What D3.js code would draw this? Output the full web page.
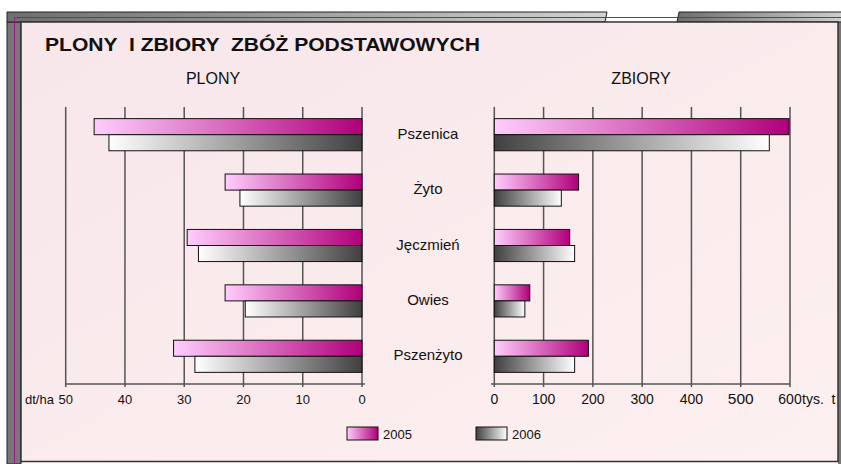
<!DOCTYPE html>
<html>
<head>
<meta charset="utf-8">
<script src="https://cdn.jsdelivr.net/npm/d3@7"></script>
<style>
    body { margin: 0; background: white; }
    text { font-family: 'Liberation Sans', Arial, sans-serif; fill: #111; }
</style>
</head>
<body>
<script>
let categories = ['Pszenica', 'Żyto', 'Jęczmień', 'Owies', 'Pszenżyto']
let years = ['2005', '2006']
let plony2005 = [45.2, 23.1, 29.5, 23.1, 31.8]
let plony2006 = [42.7, 20.6, 27.6, 19.7, 28.2]
let zbiory2005 = [598, 171, 153, 72, 191]
let zbiory2006 = [558, 136, 163, 62, 163]
let plonyTicks = [50, 40, 30, 20, 10, 0]
let zbioryTicks = [0, 100, 200, 300, 400, 500, 600]

let width = 841
let height = 464

let svg = d3.select('body')
    .append('svg')
        .attr('width', width)
        .attr('height', height)

let defs = svg.append('defs')

function gradient(id, from, to, x1, y1, x2, y2){
    let g = defs.append('linearGradient')
        .attr('id', id)
        .attr('x1', x1 || 0).attr('y1', y1 || 0)
        .attr('x2', x2 === undefined ? 1 : x2).attr('y2', y2 || 0)
    g.append('stop').attr('offset', '0%').attr('stop-color', from)
    g.append('stop').attr('offset', '100%').attr('stop-color', to)
}

gradient('pink', '#ffcdfc', '#b0007a')
gradient('greyL', '#ffffff', '#404040')
gradient('greyR', '#404040', '#ffffff')
gradient('band', '#6e6e6e', '#d2d2d2')
gradient('panel', '#f7e6ea', '#fdf0f0', 0, 0, 1, 1)

// frame
svg.append('rect')
    .attr('x', 7).attr('y', 22)
    .attr('width', 14).attr('height', height - 22)
    .attr('fill', '#777')
    .attr('stroke', '#222')
svg.append('rect')
    .attr('x', 838).attr('y', 22)
    .attr('width', 10).attr('height', height - 22)
    .attr('fill', '#777')

let bandPieces = [
    [[7, 12], [607, 12], [605, 22], [7, 22]],
    [[679, 12], [848, 12], [848, 22], [677, 22]]
]
svg.selectAll('.bandPiece')
    .data(bandPieces)
    .enter()
    .append('polygon')
        .attr('class', 'bandPiece')
        .attr('points', d => d.join(' '))
        .attr('fill', 'url(#band)')
        .attr('stroke', '#222')
        .attr('stroke-width', 1)

svg.append('path')
    .attr('d', 'M14.5,' + height + 'V17.5H' + width)
    .attr('fill', 'none')
    .attr('stroke', '#a0168c')
    .attr('stroke-width', 1)

svg.append('rect')
    .attr('x', 21).attr('y', 22)
    .attr('width', 817).attr('height', 439.5)
    .attr('fill', 'url(#panel)')
    .attr('stroke', '#333')
    .attr('stroke-width', 1.5)

// titles
svg.append('text')
    .attr('x', 45).attr('y', 51)
    .attr('font-size', 18.5)
    .attr('font-weight', 'bold')
    .attr('textLength', 435)
    .attr('lengthAdjust', 'spacingAndGlyphs')
    .attr('xml:space', 'preserve')
    .text('PLONY  I ZBIORY  ZBÓŻ PODSTAWOWYCH')

svg.append('text')
    .attr('x', 213).attr('y', 84)
    .attr('text-anchor', 'middle')
    .attr('font-size', 16)
    .text('PLONY')

svg.append('text')
    .attr('x', 641).attr('y', 84)
    .attr('text-anchor', 'middle')
    .attr('font-size', 16)
    .text('ZBIORY')

// scales
let y = d3.scaleBand()
    .domain(categories)
    .range([107, 384])
    .paddingInner(0.42)
    .paddingOuter(0.21)

let yYear = d3.scaleBand()
    .domain(years)
    .range([0, y.bandwidth()])

let xL = d3.scaleLinear().domain([50, 0]).range([65.7, 362])
let xR = d3.scaleLinear().domain([0, 600]).range([494.3, 790])

let plonyData = categories.map((c, i) => ({ cat: c, v2005: plony2005[i], v2006: plony2006[i] }))
let zbioryData = categories.map((c, i) => ({ cat: c, v2005: zbiory2005[i], v2006: zbiory2006[i] }))

// grid and axis lines
function grid(ticks, x, lineFrom, lineTo){
    let g = svg.append('g')
        .attr('stroke', '#555')
        .attr('stroke-width', 1.5)

    g.selectAll('line.grid')
        .data(ticks)
        .enter()
        .append('line')
            .attr('class', 'grid')
            .attr('x1', d => x(d)).attr('x2', d => x(d))
            .attr('y1', 107).attr('y2', 387)

    g.append('line')
        .attr('x1', lineFrom).attr('x2', lineTo)
        .attr('y1', 384).attr('y2', 384)
}

grid(plonyTicks, xL, 65, 365)
grid(zbioryTicks, xR, 491, 790)

// bars
function bars(data, x, fill2006, leftSide){
    let g = svg.append('g')
        .attr('stroke', '#111')
        .attr('stroke-width', 1)

    years.forEach(yr => {
        g.selectAll('rect.y' + yr)
            .data(data)
            .enter()
            .append('rect')
                .attr('class', 'y' + yr)
                .attr('x', d => leftSide ? x(d['v' + yr]) : x(0))
                .attr('y', d => y(d.cat) + yYear(yr))
                .attr('width', d => Math.abs(x(d['v' + yr]) - x(0)))
                .attr('height', yYear.bandwidth())
                .attr('fill', yr === '2005' ? 'url(#pink)' : fill2006)
    })
}

bars(plonyData, xL, 'url(#greyL)', true)
bars(zbioryData, xR, 'url(#greyR)', false)

// category labels
svg.selectAll('text.cat')
    .data(categories)
    .enter()
    .append('text')
        .attr('class', 'cat')
        .attr('x', 428)
        .attr('y', d => y(d) + y.bandwidth() / 2 + 4)
        .attr('text-anchor', 'middle')
        .attr('font-size', 15)
        .text(d => d)

// tick labels
svg.selectAll('text.tickL')
    .data(plonyTicks)
    .enter()
    .append('text')
        .attr('class', 'tickL')
        .attr('x', d => xL(d))
        .attr('y', 404)
        .attr('text-anchor', 'middle')
        .attr('font-size', 13)
        .text(d => d)

svg.append('text')
    .attr('x', 25).attr('y', 404)
    .attr('font-size', 13)
    .text('dt/ha')

svg.selectAll('text.tickR')
    .data(zbioryTicks)
    .enter()
    .append('text')
        .attr('class', 'tickR')
        .attr('x', d => xR(d))
        .attr('y', 404)
        .attr('text-anchor', 'middle')
        .attr('font-size', d => d === 500 ? 15.5 : 14)
        .text(d => d)

svg.append('text')
    .attr('x', 802).attr('y', 404)
    .attr('font-size', 14)
    .attr('xml:space', 'preserve')
    .text('tys.  t')

// legend
let legend = svg.selectAll('g.legend')
    .data([
        { label: years[0], fill: 'url(#pink)', x: 347 },
        { label: years[1], fill: 'url(#greyR)', x: 476 }
    ])
    .enter()
    .append('g')
        .attr('class', 'legend')
        .attr('transform', d => 'translate(' + d.x + ',427)')

legend.append('rect')
    .attr('width', 31).attr('height', 13)
    .attr('fill', d => d.fill)
    .attr('stroke', '#111')

legend.append('text')
    .attr('x', 36).attr('y', 12)
    .attr('font-size', 13)
    .text(d => d.label)
</script>
</body>
</html>
